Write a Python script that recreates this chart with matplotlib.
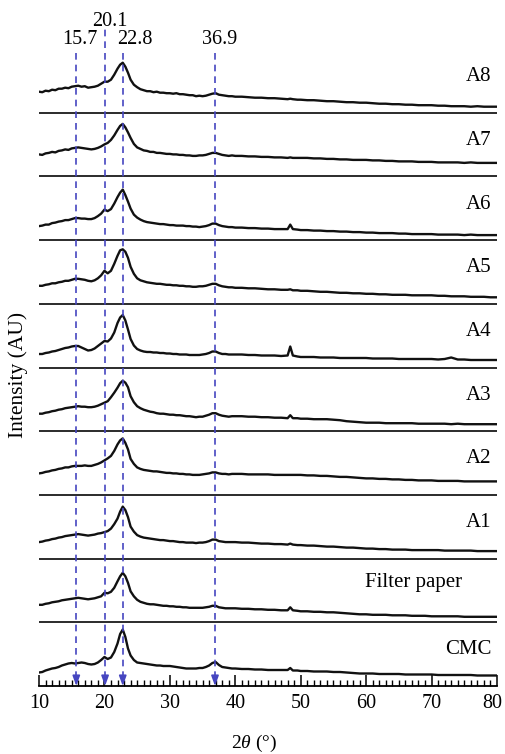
import numpy as np
import matplotlib
matplotlib.use("Agg")
import matplotlib.pyplot as plt
from matplotlib.ticker import MultipleLocator
from matplotlib.transforms import ScaledTranslation

plt.rcParams['font.family'] = ['Liberation Serif', 'DejaVu Serif']
plt.rcParams['mathtext.fontset'] = 'custom'
plt.rcParams['mathtext.rm'] = 'Liberation Serif'
plt.rcParams['mathtext.it'] = 'Liberation Serif:italic'

# 2theta grid (deg): finer around the cellulose peaks
two_theta = np.concatenate([np.arange(10, 22.01, 0.5), [22.4, 22.8, 23.2, 23.6],
                            np.arange(24, 40.01, 0.5), np.arange(41, 48.01, 1),
                            [48.4, 48.8, 49.5], np.arange(50, 80.01, 1)])

# intensities (AU), one list per sample
a8 = [21, 20.5, 22, 21.5, 23, 22.5, 24, 24, 25, 24.5, 26, 26.5, 27, 26, 26.5, 25, 25.5, 26, 27, 29, 31, 31, 33, 38, 44,
      48, 50, 46, 40,
      33, 28, 25.5, 23.5, 22.5, 21.5, 21.5, 20.5, 21, 20, 20, 19.5, 19.5, 19, 19.5, 18.5, 18.5, 18, 17.5, 17.5, 16.5, 17,
      16.5, 17, 18, 19, 19.5, 18, 17.5, 17, 16.5, 16.5, 16,
      16, 15.5, 15, 15, 14.5, 14.5, 14, 13.5,
      14, 13.5, 13,
      13, 12.5, 12.5, 12, 11.5, 11.5, 11, 10.5, 10.5, 10, 10, 9.5, 9, 9, 8.5, 8.5, 8, 8, 7.5, 7.5,
      7.5, 7, 7, 6.5, 6.5, 6.5, 6, 6.5, 6, 6, 6]
a7 = [22, 21.5, 23, 23.5, 24.5, 24, 25.5, 26, 27, 26.5, 28, 28.5, 29, 28.5, 28, 27.5, 27, 27.5, 28.5, 30, 32, 33.5, 36.5,
      41, 46.5,
      50.5, 52.5, 49, 44,
      38.5, 32.5, 29, 27.5, 26, 25.5, 24.5, 24.5, 23.5, 23.5, 23, 22.5, 22.5, 22, 22, 21.5, 21.5, 21, 21, 20.5, 20.5, 21,
      21, 21.5, 22.5, 23.5, 23.5, 22.5, 21.5, 21, 20.5, 21, 20.5,
      20.5, 20, 20, 19.5, 19.5, 19, 19, 18.5,
      19, 18.5, 18.5,
      18.5, 18.5, 18, 18, 17.5, 17.5, 17, 17, 16.5, 16.5, 16.5, 16, 16, 15.5, 15.5, 15, 15, 15, 14.5, 14.5,
      14.5, 14, 14, 14, 14, 13.5, 14, 13.5, 13.5, 13.5, 13.5]
a6 = [14, 14.5, 15.5, 15.5, 17, 17.5, 18.5, 19, 20, 20, 21, 22, 22, 21.5, 21.5, 21, 21, 22, 24, 26.5, 30.5, 29, 31, 36.5,
      43,
      47.5, 50.5, 45, 38.5,
      31.5, 25.5, 22.5, 20.5, 19, 18, 17.5, 17, 16.5, 16, 16, 15.5, 15, 15, 14.5, 14.5, 14.5, 14, 14, 13.5, 13.5, 13,
      13.5, 14, 15, 16.5, 16.5, 15, 14, 13.5, 13, 13, 12.5,
      12.5, 12, 12, 11.5, 11.5, 11, 11, 11,
      15.5, 11, 10.5,
      10, 10, 9.5, 9.5, 9, 9, 8.5, 8.5, 8, 8, 7.5, 7.5, 7, 7, 7, 6.5, 6.5, 6, 6, 6,
      6, 5.5, 5.5, 5.5, 5.5, 5, 5.5, 5, 5, 5, 5]
a5 = [18, 18, 19, 19.5, 20.5, 20.5, 21.5, 22, 23, 23, 24, 25, 25, 24.5, 24, 23, 22.5, 23.5, 25.5, 28.5, 33, 30.5, 33, 40,
      48,
      53.5, 54.5, 52, 46,
      37, 30, 25.5, 23.5, 22.5, 21.5, 21, 20.5, 20, 20, 19.5, 19, 19, 18.5, 18.5, 18, 18, 17.5, 17.5, 17, 17, 17.5,
      17.5, 18, 19, 20, 20, 18.5, 17.5, 17, 16.5, 16.5, 16,
      16, 15.5, 15.5, 15, 14.5, 14.5, 14, 14,
      14.5, 13.5, 13.5,
      13, 13, 12.5, 12, 12, 11.5, 11, 11, 10.5, 10.5, 10, 10, 9.5, 9.5, 9, 9, 9, 8.5, 8.5, 8.5,
      8.5, 8, 8, 7.5, 7.5, 7.5, 7, 7, 7, 6.5, 6.5]
a4 = [13.5, 13.5, 14.5, 15, 16, 16.5, 17.5, 18.5, 19.5, 20, 21, 21.5, 21.5, 20, 18.5, 17, 17.5, 19, 21.5, 24, 26.5, 26,
      29, 35, 44.5,
      50, 52.5, 47, 38,
      28.5, 22, 18.5, 17, 16, 15.5, 15.5, 15, 15, 14.5, 14.5, 14, 14, 13.5, 13.5, 13, 13, 13, 12.5, 12.5, 12.5, 12.5,
      13, 13.5, 14.5, 16, 16, 14.5, 13.5, 13.5, 13, 13, 13,
      13, 12.5, 12.5, 12, 12, 12, 11.5, 12,
      21, 12, 11,
      10.5, 10.5, 10.5, 10, 10, 10, 9.5, 9.5, 9.5, 9.5, 9.5, 9, 9, 9, 9, 8.5, 8.5, 8.5, 8.5, 8.5,
      8.5, 8, 8.5, 10, 8, 8, 7.5, 7.5, 7.5, 7.5, 7.5]
a3 = [17.5, 17.5, 18.5, 19, 20, 20.5, 21.5, 22, 23, 23.5, 24, 24.5, 25, 24.5, 24.5, 24, 24, 24.5, 25.5, 27, 28.5, 30, 34,
      38.5, 43.5,
      48, 50.5, 48.5, 44,
      35, 29, 25, 23, 21.5, 20.5, 19.5, 19, 18, 17.5, 17.5, 17, 16.5, 16.5, 16, 16, 15.5, 15, 15, 14.5, 14, 14.5,
      14.5, 15.5, 16.5, 18, 18, 16.5, 15.5, 15, 14.5, 15, 15,
      15, 14.5, 14.5, 14, 14, 13.5, 13.5, 13,
      16, 13, 13,
      12.5, 12.5, 12, 12, 12, 11.5, 11, 10, 9.5, 9, 8.5, 8.5, 8.5, 8, 8, 8, 8, 8, 7.5, 7.5,
      7.5, 7.5, 7.5, 7, 7.5, 7, 7, 7, 7, 7, 7]
a2 = [21.5, 22, 23, 23.5, 24.5, 25, 26, 26.5, 27.5, 27.5, 28.5, 29, 29, 29, 29.5, 29, 29, 30, 31, 32.5, 34.5, 36.5, 39,
      44, 50.5,
      54.5, 56.5, 52, 45.5,
      36, 31, 27.5, 26, 25, 24.5, 24, 23.5, 23.5, 23, 22.5, 22, 22, 21.5, 21.5, 21, 21, 20.5, 20.5, 20, 20, 20,
      20.5, 21, 21.5, 22.5, 22.5, 21.5, 21, 21, 20.5, 21, 21,
      21, 20.5, 20.5, 20.5, 20.5, 20, 20, 20,
      20, 20, 20,
      20, 19.5, 19.5, 19, 19, 18.5, 18, 18, 17.5, 17, 16.5, 16.5, 16, 16, 15.5, 15.5, 15, 15, 14.5, 14.5,
      14.5, 14, 14, 14, 14, 13.5, 13.5, 13.5, 13.5, 13.5, 13.5]
a1 = [16.5, 17, 18, 18.5, 19.5, 20, 21, 21.5, 22.5, 23, 23.5, 24, 24.5, 24, 23.5, 23, 23.5, 24, 25, 25.5, 26.5, 27.5,
      30, 34.5, 40,
      47, 52, 48.5, 41.5,
      32, 27, 23.5, 22, 21, 20.5, 20, 19.5, 19, 18.5, 18.5, 18, 17.5, 17.5, 17, 16.5, 16.5, 16, 16, 16, 15.5, 16,
      16, 16.5, 17.5, 19, 19, 17.5, 17, 16.5, 16.5, 16.5, 16.5,
      16, 16, 15.5, 15, 15, 14.5, 14.5, 14,
      15, 14, 13.5,
      13.5, 13, 13, 12.5, 12, 12, 11.5, 11, 11, 10.5, 10, 10, 9.5, 9.5, 9, 9, 9, 8.5, 8.5, 8.5,
      8.5, 8.5, 8, 8, 8, 8, 8, 7.5, 7.5, 7.5, 7.5]
filter_paper = [17.5, 17.5, 18.5, 19, 20, 20.5, 21, 22, 22.5, 23, 23.5, 24, 24.5, 24, 23.5, 23, 23.5, 24, 25, 26, 29.5,
                29, 30.5, 34.5, 41,
                46, 49.5, 46, 39.5,
                31, 26, 22.5, 20.5, 19.5, 18.5, 18, 18, 17.5, 17, 16.5, 16.5, 16, 16, 15.5, 15.5, 15, 15, 14.5, 14.5,
                14.5, 14.5, 14.5, 15, 15.5, 16.5, 16.5, 15, 14.5, 14, 14, 14, 14,
                13.5, 13.5, 13, 13, 12.5, 12.5, 12, 12,
                15, 12, 11.5,
                11, 11, 10.5, 10.5, 10, 10, 9.5, 9, 8.5, 8, 8, 7.5, 7.5, 7.5, 7, 7, 7, 6.5, 6.5, 6.5,
                6, 6, 6, 6, 6, 5.5, 5.5, 5.5, 5.5, 5.5, 5.5]
cmc = [13.5, 14, 15.5, 16.5, 17.5, 18, 19, 20.5, 21.5, 22.5, 23, 22.5, 23, 23.5, 23, 22, 21.5, 22, 23.5, 26, 29, 27,
       28.5, 34, 42.5,
       52, 56.5, 49, 37.5,
       30.5, 26, 23.5, 23, 22.5, 22, 21.5, 21, 20.5, 20.5, 20, 20, 20, 19.5, 19, 18.5, 18, 17.5, 17.5, 17.5, 17.5, 18,
       18, 19, 20.5, 23, 24, 21, 19, 18.5, 18, 17.5, 17.5,
       17, 17, 16.5, 16.5, 16, 16, 16, 16,
       18, 15.5, 15.5,
       15, 15, 14.5, 14.5, 14.5, 14, 14, 13.5, 13, 12.5, 12.5, 12.5, 12, 12, 12, 12, 11.5, 11.5, 11.5, 11.5,
       11.5, 11, 11, 11, 11, 11, 11, 10.5, 10.5, 10.5, 10.5]

# bottom to top
samples = ['CMC', 'Filter paper', 'A1', 'A2', 'A3', 'A4', 'A5', 'A6', 'A7', 'A8']
patterns = [cmc, filter_paper, a1, a2, a3, a4, a5, a6, a7, a8]

peaks = [15.7, 20.1, 22.8, 36.9]
peak_labels = ['15.7', '20.1', '22.8', '36.9']

blue = '#4646c0'
step = 63.7

fig = plt.figure(figsize=(5.05, 7.54), dpi=100)
ax = fig.add_axes([39 / 505, 68 / 754, 458 / 505, 686 / 754])
ax.set_xlim(10, 80)
ax.set_ylim(0, 686)

for i, (name, y) in enumerate(zip(samples, patterns)):
    off = i * step
    ax.plot(two_theta, np.array(y) + off, color='#111111', lw=1.7, zorder=3)
    if i > 0:
        ax.axhline(off, color='#1a1a1a', lw=1.3, zorder=2)
    if name == 'Filter paper':
        ax.text(74.6, off + 40, name, ha='right', va='center', fontsize=15)
    else:
        ax.text(79.2, off + 36, name, ha='right', va='center', fontsize=15)

# dashed reference lines with arrowheads at the bottom axis
tops = [636, 658, 636, 636]
label_dx = [0.57, 0.7, 1.8, 0.76]
label_y = [646.7, 664.3, 646.7, 646.7]
for p, t, lab, dx, ly in zip(peaks, tops, peak_labels, label_dx, label_y):
    ax.plot([p, p], [8, t], color=blue, lw=1.2, ls=(0, (4, 3)), zorder=4)
    ax.annotate('', xy=(p, 0), xytext=(p, 9),
                arrowprops=dict(arrowstyle='-|>,head_length=0.6,head_width=0.22',
                                color=blue, lw=1.2, shrinkA=0, shrinkB=0), zorder=4)
    ax.text(p + dx, ly, lab, ha='center', va='center', fontsize=14.5)

for s in ['top', 'left', 'right']:
    ax.spines[s].set_visible(False)
ax.spines['bottom'].set_linewidth(1.3)
ax.set_yticks([])
ax.set_xticks(range(10, 81, 10))
ax.xaxis.set_minor_locator(MultipleLocator(1))
ax.tick_params(axis='x', which='major', direction='in', length=8, width=1.1, labelsize=14.5, pad=6)
ax.tick_params(axis='x', which='minor', direction='in', length=4, width=1)
last = ax.get_xticklabels()[-1]
last.set_transform(last.get_transform() + ScaledTranslation(-5 / 100, 0, fig.dpi_scale_trans))

fig.text(18 / 505, 1 - 375 / 754, 'Intensity (AU)', rotation=90, ha='center', va='center', fontsize=15.5)
fig.text(254.5 / 505, 1 - 743 / 754, r'2$\mathit{\theta}$ (°)', ha='center', va='center', fontsize=14)

fig.savefig('out.png', dpi=100)
